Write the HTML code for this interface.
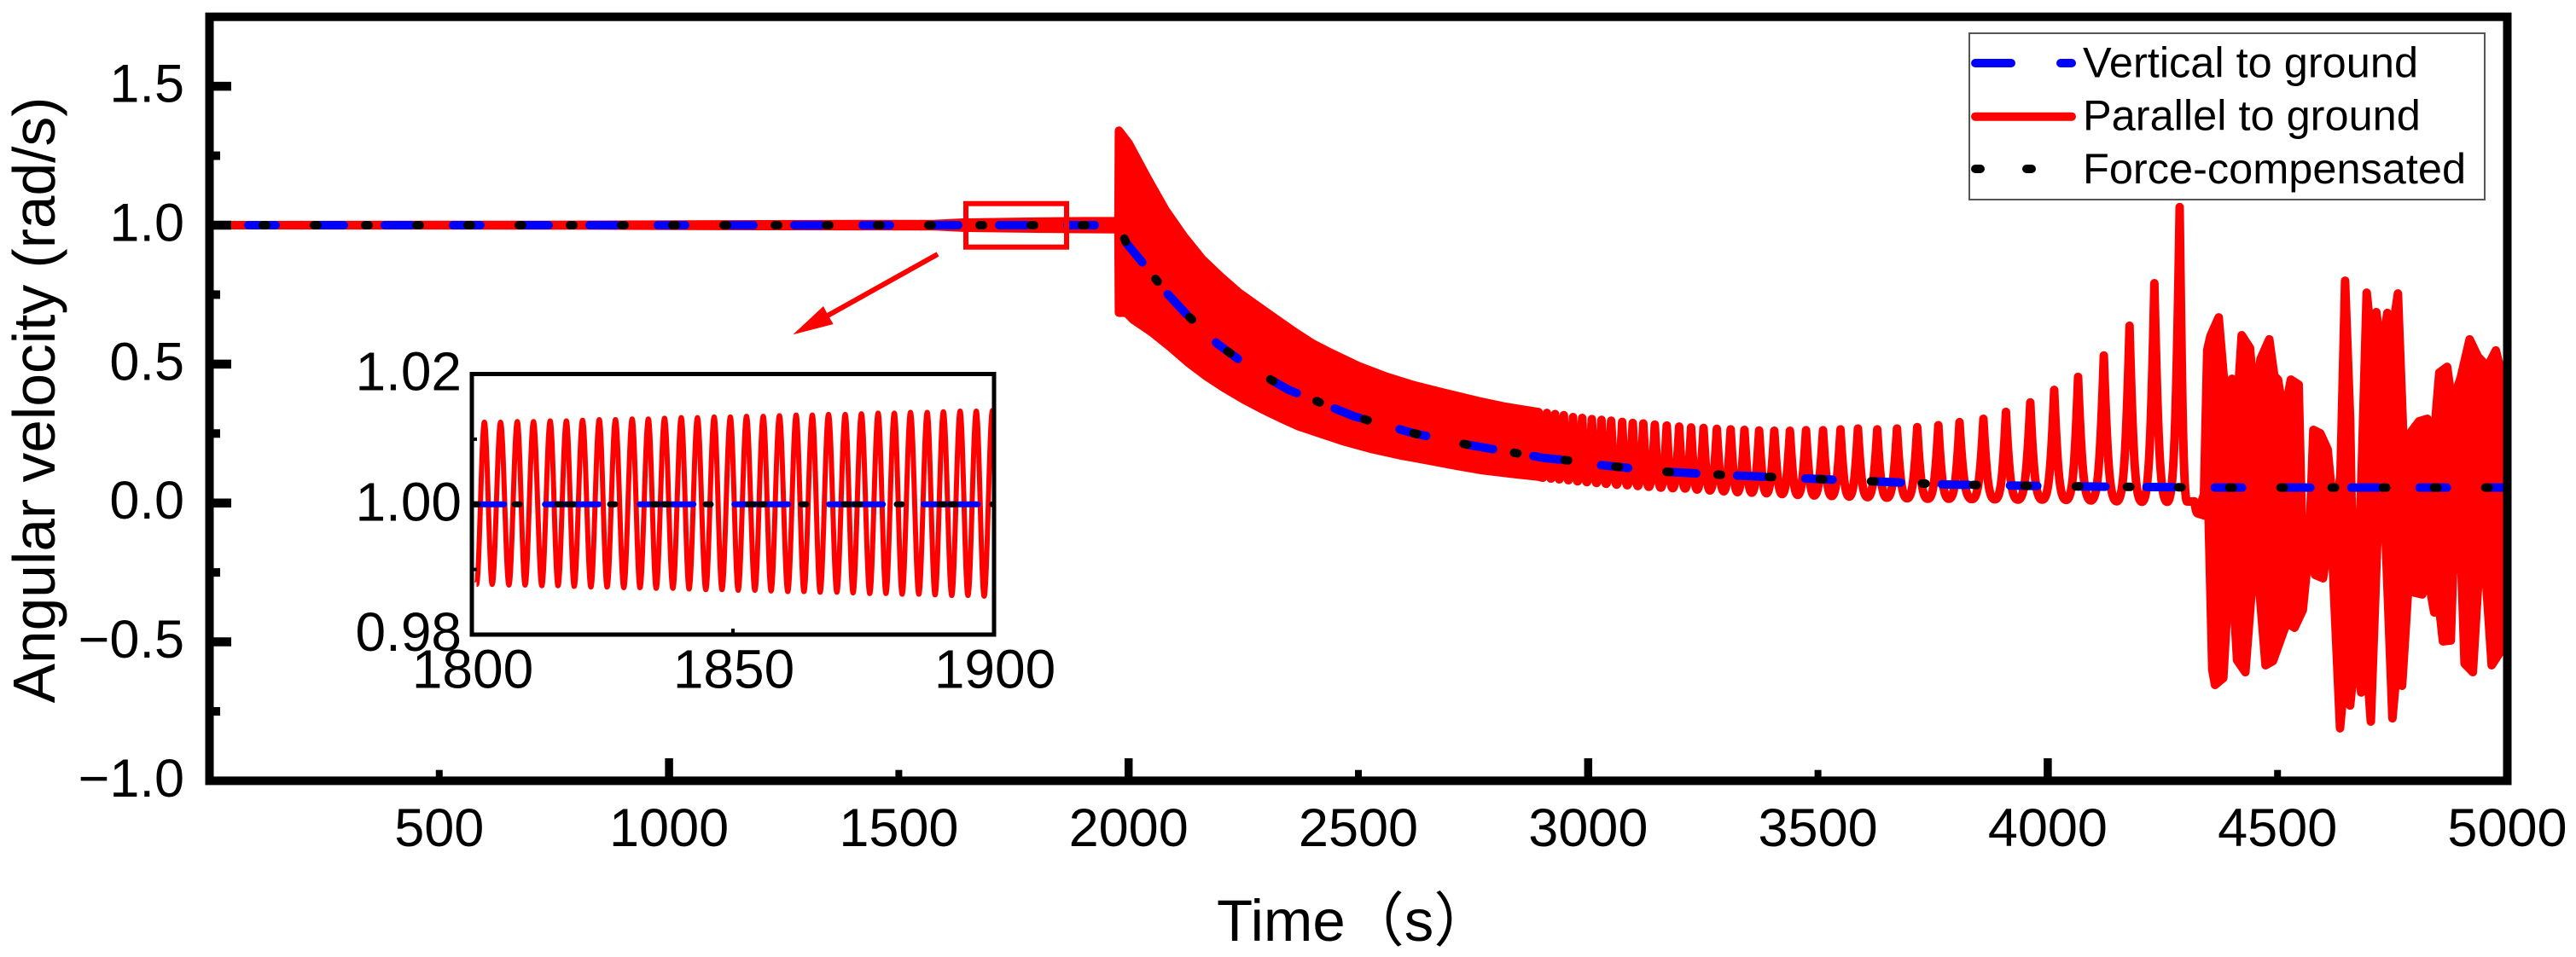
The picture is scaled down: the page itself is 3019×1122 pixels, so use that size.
<!DOCTYPE html>
<html lang="en">
<head>
<meta charset="utf-8">
<title>Angular velocity vs time</title>
<style>
html,body{margin:0;padding:0;background:#fff;width:3019px;height:1122px;overflow:hidden}
svg{display:block}
text{font-family:"Liberation Sans","Noto Sans CJK SC",sans-serif;fill:#000}
</style>
</head>
<body>
<svg id="chart" xmlns="http://www.w3.org/2000/svg" width="3019" height="1122" viewBox="0 0 3019 1122">
  <defs>
    <clipPath id="plot-clip"><rect x="250" y="24" width="2684" height="887"/></clipPath>
    <clipPath id="inset-clip"><rect x="555" y="441" width="608" height="301"/></clipPath>
  </defs>
  <rect width="3019" height="1122" fill="#fff"/>
  <g id="series" clip-path="url(#plot-clip)"></g>
  <rect x="1132" y="238.7" width="118" height="51" fill="none" stroke="#f00" stroke-width="6"/>
  <g>
    <line x1="1099" y1="298" x2="970" y2="370" stroke="#f00" stroke-width="6"/>
    <polygon points="929.3,392.3 965,359 970.7,370 976.7,380" fill="#f00"/>
  </g>
  <g id="axes"></g>
  <rect x="245.5" y="19.7" width="2693" height="895.7" fill="none" stroke="#000" stroke-width="10"/>
  <text x="64" y="469" font-size="69.5" text-anchor="middle" transform="rotate(-90 64 469)">Angular velocity (rad/s)</text>
  <text x="1426" y="1103" font-size="69">Time（s）</text>

  <g id="inset-series" clip-path="url(#inset-clip)"></g>
  <g id="inset-axes"></g>
  <rect x="553" y="438.5" width="612" height="305.5" fill="none" stroke="#000" stroke-width="5"/>

  <g>
    <rect x="2308" y="39" width="604" height="195" fill="#fff" stroke="#555" stroke-width="2"/>
    <line x1="2315" y1="74" x2="2357" y2="74" stroke="#00f" stroke-width="10" stroke-linecap="round"/>
    <line x1="2415" y1="74" x2="2428" y2="74" stroke="#00f" stroke-width="10" stroke-linecap="round"/>
    <text x="2441" y="90.7" font-size="50.5">Vertical to ground</text>
    <line x1="2315" y1="136.7" x2="2428" y2="136.7" stroke="#f00" stroke-width="10" stroke-linecap="round"/>
    <text x="2441" y="152.7" font-size="50.5">Parallel to ground</text>
    <line x1="2315" y1="198" x2="2321" y2="198" stroke="#000" stroke-width="10" stroke-linecap="round"/>
    <line x1="2375" y1="198" x2="2381" y2="198" stroke="#000" stroke-width="10" stroke-linecap="round"/>
    <text x="2441" y="215" font-size="50.5">Force-compensated</text>
  </g>
</svg>
<script>
// ---------- main chart data ----------
const xTickLabels = [500,1000,1500,2000,2500,3000,3500,4000,4500,5000];
const xMajorTicks = [1000,2000,3000,4000,5000];
const xMinorTicks = [500,1500,2500,3500,4500];
const yTickLabels = [-1.0,-0.5,0.0,0.5,1.0,1.5];
const yMinorTicks = [-0.75,-0.25,0.25,0.75,1.25];

const verticalTimes = [0,1978,1995,2038,2082,2125,2193,2236,2286,2348,2490,2620,2743,2830,2905,2960,3022,3165,3301,3518,3778,4000,4371,5000];
const verticalValues = [1,1,0.9355,0.8496,0.7574,0.6807,0.5732,0.521,0.4658,0.4074,0.3122,0.2509,0.2079,0.1833,0.1618,0.1526,0.1372,0.1127,0.1004,0.085,0.0666,0.0605,0.0553,0.0553];
const compensatedTimes = [0,1978,1995,2038,2082,2125,2193,2236,2286,2348,2490,2620,2743,2830,2905,2960,3022,3165,3301,3518,3778,4000,4371,5000];
const compensatedValues = [1,1,0.9355,0.8496,0.7574,0.6807,0.5732,0.521,0.4658,0.4074,0.3122,0.2509,0.2079,0.1833,0.1618,0.1526,0.1372,0.1127,0.1004,0.085,0.0666,0.0605,0.0553,0.0553];

// Parallel-to-ground series: oscillation too fast to resolve, read as upper and lower envelope
const decayUpperTimes = [0,800,1200,1580,1640,1800,1900,1978,1979,2000,2040,2080,2120,2160,2200,2240,2280,2320,2360,2400,2440,2500,2560,2620,2680,2760,2820,2892];
const decayUpperValues = [1,1.001,1.003,1.004,1.009,1.0125,1.014,1.0145,1.34,1.295,1.172,1.055,0.96,0.878,0.815,0.757,0.71,0.663,0.617,0.574,0.54,0.493,0.455,0.424,0.399,0.367,0.346,0.327];
const decayLowerTimes = [0,800,1200,1580,1640,1800,1900,1978,1979,1995,2010,2050,2090,2130,2170,2210,2250,2290,2330,2370,2410,2470,2530,2590,2650,2710,2770,2830,2892,2901];
const decayLowerValues = [1,0.999,0.997,0.996,0.991,0.9875,0.986,0.9855,0.685,0.685,0.66,0.615,0.562,0.505,0.455,0.412,0.373,0.338,0.306,0.276,0.254,0.221,0.194,0.172,0.154,0.135,0.118,0.106,0.095,0.091];

// Parallel-to-ground series: separate spikes
const parallelCycleTimes = [2901,2910,2919,2928,2937,2947,2957,2967,2977,2987,2997,3008,3018,3029,3039,3050,3062,3074,3085,3097,3108,3120,3132,3145,3158,3171,3184,3198,3211,3224,3237,3251,3265,3280,3295,3310,3325,3340,3356,3372,3388,3405,3422,3439,3456,3474,3492,3511,3530,3549,3568,3587,3608,3629,3650,3672,3694,3716,3739,3762,3785,3808,3835,3860,3885,3909,3935,3962,3988,4014,4040,4066,4094,4122,4150,4178,4205,4232,4260,4287,4303,4319,4326];
const parallelCycleValues = [0.091,0.324,0.088,0.32,0.085,0.316,0.082,0.309,0.078,0.306,0.075,0.302,0.072,0.299,0.069,0.296,0.066,0.292,0.064,0.288,0.061,0.286,0.058,0.282,0.055,0.279,0.053,0.275,0.052,0.272,0.048,0.27,0.045,0.267,0.042,0.265,0.039,0.263,0.037,0.261,0.035,0.26,0.032,0.26,0.029,0.262,0.027,0.262,0.025,0.265,0.023,0.268,0.021,0.265,0.019,0.268,0.017,0.273,0.015,0.28,0.015,0.291,0.014,0.303,0.013,0.328,0.012,0.362,0.012,0.407,0.011,0.454,0.009,0.531,0.006,0.638,0.004,0.791,0.004,1.065,0.005,0.006,-0.037];

// Parallel-to-ground series: irregular burst, read as upper and lower envelope
const burstUpperTimes = [4326,4340,4347,4354,4372,4385,4401,4411,4422,4440,4451,4463,4482,4493,4501,4514,4529,4546,4554,4568,4578,4593,4609,4620,4628,4637,4647,4658,4664,4675,4683,4694,4706,4715,4726,4739,4750,4762,4772,4780,4791,4808,4826,4839,4852,4869,4880,4899,4918,4936,4957,4975,4990,5000];
const burstUpperValues = [-0.037,0.03,0.55,0.601,0.668,0.414,0.447,0.312,0.604,0.558,0.35,0.518,0.589,0.457,0.444,0.312,0.444,0.426,-0.139,-0.188,0.263,0.251,0.193,0.005,-0.037,0.106,0.8,0.3,-0.256,-0.256,0.106,0.757,0.567,0.687,0.54,0.684,0.619,0.754,0.312,-0.078,0.257,0.294,0.303,0.209,0.469,0.49,0.358,0.453,0.589,0.527,0.49,0.549,0.45,0.4];
const burstLowerTimes = [4326,4350,4358,4364,4382,4398,4412,4430,4452,4474,4490,4520,4537,4555,4567,4582,4599,4616,4636,4646,4658,4671,4682,4692,4703,4726,4750,4760,4771,4789,4799,4815,4826,4841,4852,4860,4877,4891,4907,4925,4945,4966,4984,5000];
const burstLowerValues = [-0.037,-0.05,-0.6,-0.655,-0.63,-0.16,-0.566,-0.609,-0.137,-0.584,-0.569,-0.431,-0.449,-0.385,-0.185,-0.259,-0.271,-0.068,-0.811,-0.63,-0.729,-0.517,-0.682,-0.529,-0.787,0.275,-0.775,-0.59,-0.658,-0.185,-0.323,-0.329,-0.253,-0.394,-0.379,-0.498,-0.495,0.22,-0.578,-0.609,-0.062,-0.584,-0.538,-0.52];

// ---------- inset data ----------
const insetXTicks = [1800,1850,1900];
const insetYTicks = [0.98,1.00,1.02];
const insetYMinorTicks = [0.99,1.01];
const insetParallelTimes = [1800.9,1802.4,1803.9,1805.5,1807.1,1808.7,1810.2,1811.8,1813.4,1815.0,1816.5,1818.1,1819.6,1821.2,1822.8,1824.4,1825.9,1827.5,1829.1,1830.7,1832.2,1833.8,1835.3,1836.9,1838.5,1840.1,1841.6,1843.2,1844.8,1846.4,1847.9,1849.5,1851.0,1852.6,1854.2,1855.8,1857.3,1858.9,1860.5,1862.1,1863.6,1865.2,1866.7,1868.3,1869.9,1871.5,1873.0,1874.6,1876.2,1877.8,1879.3,1880.9,1882.4,1884.0,1885.6,1887.2,1888.7,1890.3,1891.9,1893.5,1895.0,1896.6,1898.1,1899.7,1901.3];
const insetParallelValues = [0.9877,1.0126,0.9877,1.0126,0.9876,1.0127,0.9876,1.0127,0.9875,1.0128,0.9875,1.0128,0.9874,1.0129,0.9873,1.013,0.9873,1.013,0.9872,1.0131,0.9872,1.0131,0.9871,1.0132,0.9871,1.0133,0.987,1.0133,0.9869,1.0134,0.9869,1.0134,0.9868,1.0135,0.9868,1.0135,0.9867,1.0136,0.9866,1.0137,0.9866,1.0137,0.9865,1.0138,0.9865,1.0138,0.9864,1.0139,0.9863,1.014,0.9863,1.014,0.9862,1.0141,0.9862,1.0141,0.9861,1.0142,0.986,1.0143,0.986,1.0143,0.9859,1.0144,0.9859];
const insetVerticalTimes = [1800,1900];
const insetVerticalValues = [1,1];
const insetCompensatedTimes = [1800,1900];
const insetCompensatedValues = [1,1];

// ---------- scales ----------
const xScale = t => 245.5 + (t - 0) * (2938.5 - 245.5) / 5000;
const yScale = v => 19.7 + (1.75 - v) * (915.4 - 19.7) / 2.75;
const insetX = t => 553 + (t - 1800) * (1165 - 553) / 100;
const insetY = v => 438.5 + (1.02 - v) * (744 - 438.5) / 0.04;

const NS = 'http://www.w3.org/2000/svg';
function make(tag, attrs, parent) {
  const el = document.createElementNS(NS, tag);
  for (const k in attrs) el.setAttribute(k, attrs[k]);
  parent.appendChild(el);
  return el;
}
const fmt = n => n.toFixed(2);
function straightPath(ts, vs, X, Y) {
  return ts.map((t, i) => (i ? 'L' : 'M') + fmt(X(t)) + ' ' + fmt(Y(vs[i]))).join('');
}
// closed outline: upper envelope left to right, lower envelope right to left
function bandPath(upT, upV, loT, loV, X, Y) {
  let d = straightPath(upT, upV, X, Y);
  for (let i = loT.length - 1; i >= 0; i--) d += 'L' + fmt(X(loT[i])) + ' ' + fmt(Y(loV[i]));
  return d + 'Z';
}
// peaks narrow as the spacing widens, troughs stay rounded
function spikePath(ts, vs, X, Y) {
  let d = 'M' + fmt(X(ts[0])) + ' ' + fmt(Y(vs[0]));
  for (let i = 1; i < ts.length; i++) {
    const x0 = X(ts[i-1]), y0 = Y(vs[i-1]), x1 = X(ts[i]), y1 = Y(vs[i]);
    const dx = x1 - x0, dy = y1 - y0;
    const k = Math.max(.4, Math.min(.8, .4 + .05 * (dx - 5)));
    if (dy > 0) {
      d += 'C' + fmt(x0 + .3*dx) + ' ' + fmt(y0 + k*dy) + ' ' + fmt(x1 - .5*dx) + ' ' + fmt(y1) + ' ' + fmt(x1) + ' ' + fmt(y1);
    } else {
      d += 'C' + fmt(x0 + .5*dx) + ' ' + fmt(y0) + ' ' + fmt(x1 - .3*dx) + ' ' + fmt(y1 - k*dy) + ' ' + fmt(x1) + ' ' + fmt(y1);
    }
  }
  return d;
}
function wavePath(ts, vs, X, Y) {
  let d = 'M' + fmt(X(ts[0])) + ' ' + fmt(Y(vs[0]));
  for (let i = 1; i < ts.length; i++) {
    const x0 = X(ts[i-1]), y0 = Y(vs[i-1]), x1 = X(ts[i]), y1 = Y(vs[i]);
    const dx = x1 - x0;
    d += 'C' + fmt(x0 + .36*dx) + ' ' + fmt(y0) + ' ' + fmt(x1 - .36*dx) + ' ' + fmt(y1) + ' ' + fmt(x1) + ' ' + fmt(y1);
  }
  return d;
}
const minusFmt = (v, dp) => (v < 0 ? '\u2212' : '') + Math.abs(v).toFixed(dp);

// ---------- main series ----------
const seriesG = document.getElementById('series');
const lineStyle = {stroke:'#f00', 'stroke-width':10, 'stroke-linejoin':'round', 'stroke-linecap':'round'};

const redDecay = make('path', Object.assign({d: bandPath(decayUpperTimes, decayUpperValues, decayLowerTimes, decayLowerValues, xScale, yScale), fill:'#f00'}, lineStyle), seriesG);



const redCycle = make('path', Object.assign({d: spikePath(parallelCycleTimes, parallelCycleValues, xScale, yScale), fill:'none'}, lineStyle), seriesG);



const redBurst = make('path', Object.assign({d: bandPath(burstUpperTimes, burstUpperValues, burstLowerTimes, burstLowerValues, xScale, yScale), fill:'#f00'}, lineStyle), seriesG);



const blueLine = make('path', {d: straightPath(verticalTimes, verticalValues, xScale, yScale), fill:'none', stroke:'#00f', 'stroke-width':10, 'stroke-linecap':'round', 'stroke-linejoin':'round', 'stroke-dasharray':'32 48', 'stroke-dashoffset':-45.5}, seriesG);



const blackLine = make('path', {d: straightPath(compensatedTimes, compensatedValues, xScale, yScale), fill:'none', stroke:'#000', 'stroke-width':10, 'stroke-linecap':'round', 'stroke-linejoin':'round', 'stroke-dasharray':'4 56', 'stroke-dashoffset':-2.5}, seriesG);



// ---------- main axes ----------
const axesG = document.getElementById('axes');
xMajorTicks.forEach(t => {
  const tick = make('line', {x1:xScale(t), x2:xScale(t), y1:915, y2:889, stroke:'#000', 'stroke-width':9.5}, axesG);
  
  
});
xMinorTicks.forEach(t => {
  const tick = make('line', {x1:xScale(t), x2:xScale(t), y1:915, y2:902.7, stroke:'#000', 'stroke-width':8}, axesG);
  
  
});
xTickLabels.forEach(t => {
  const label = make('text', {x:xScale(t), y:992, 'font-size':63, 'text-anchor':'middle'}, axesG);
  label.textContent = String(t);
  
  
});
yTickLabels.forEach(v => {
  if (v > -1) {
    const tick = make('line', {x1:245.5, x2:271, y1:yScale(v), y2:yScale(v), stroke:'#000', 'stroke-width':10.5}, axesG);
    
    
  }
  const label = make('text', {x:216, y:yScale(v)+18.5, 'font-size':63, 'text-anchor':'end'}, axesG);
  label.textContent = minusFmt(v, 1);
  
  
});
yMinorTicks.forEach(v => {
  const tick = make('line', {x1:245.5, x2:258, y1:yScale(v), y2:yScale(v), stroke:'#000', 'stroke-width':10}, axesG);
  
  
});

// ---------- inset ----------
const insetG = document.getElementById('inset-series');
const insetRed = make('path', {d: wavePath(insetParallelTimes, insetParallelValues, insetX, insetY), fill:'none', stroke:'#f00', 'stroke-width':6, 'stroke-linejoin':'round'}, insetG);



const insetBlue = make('path', {d: straightPath(insetVerticalTimes, insetVerticalValues, insetX, insetY), fill:'none', stroke:'#00f', 'stroke-width':7, 'stroke-linecap':'round', 'stroke-dasharray':'63 48', 'stroke-dashoffset':25.3}, insetG);



const insetBlack = make('path', {d: straightPath(insetCompensatedTimes, insetCompensatedValues, insetX, insetY), fill:'none', stroke:'#000', 'stroke-width':7, 'stroke-linecap':'round', 'stroke-dasharray':'6 43 6 44 6 7', 'stroke-dashoffset':-1}, insetG);



const insetAxes = document.getElementById('inset-axes');
insetXTicks.forEach(t => {
  const tick = make('line', {x1:insetX(t), x2:insetX(t), y1:744, y2:737, stroke:'#000', 'stroke-width':4}, insetAxes);
  
  
  const label = make('text', {x:insetX(t)+1, y:806.5, 'font-size':64, 'text-anchor':'middle'}, insetAxes);
  label.textContent = String(t);
  
  
});
insetYTicks.forEach(v => {
  const label = make('text', {x:541, y:insetY(v)+19, 'font-size':64, 'text-anchor':'end'}, insetAxes);
  label.textContent = v.toFixed(2);
  
  
});
insetYMinorTicks.forEach(v => {
  const tick = make('line', {x1:553, x2:559, y1:insetY(v), y2:insetY(v), stroke:'#000', 'stroke-width':4}, insetAxes);
  
  
});
</script>
</body>
</html>
